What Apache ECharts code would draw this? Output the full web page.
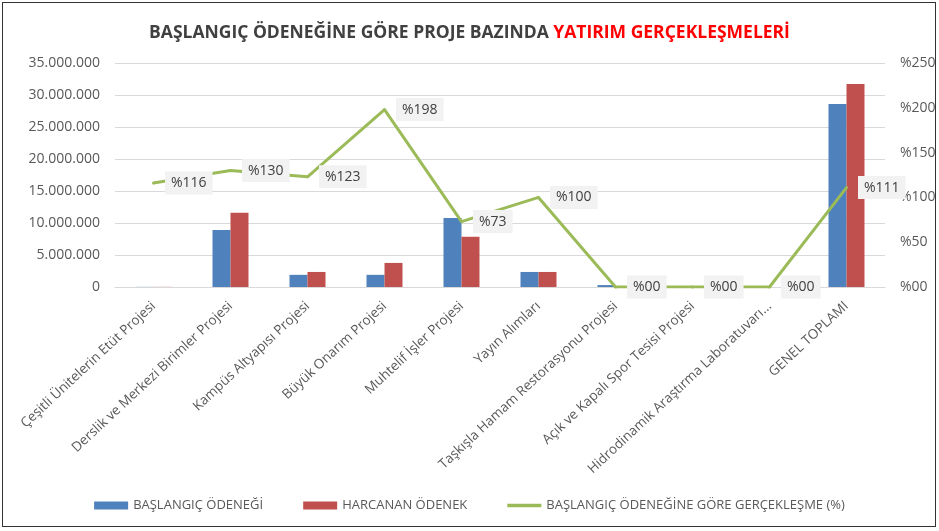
<!DOCTYPE html>
<html><head><meta charset="utf-8">
<script src="https://cdn.jsdelivr.net/npm/echarts@6/dist/echarts.min.js"></script>
<style>
html,body{margin:0;padding:0;background:#fff;}
#frame{position:absolute;left:2px;top:2px;width:934px;height:525px;border:1px solid #333;box-sizing:border-box;}
#c{position:absolute;left:0;top:0;width:939px;height:531px;}
</style></head>
<body><div id="frame"></div><div id="c"></div>
<script>
const categories = ["Çeşitli Ünitelerin Etüt Projesi","Derslik ve Merkezi Birimler Projesi","Kampüs Altyapısı Projesi","Büyük Onarım Projesi","Muhtelif İşler Projesi","Yayın Alımları","Taşkışla Hamam Restorasyonu Projesi","Açık ve Kapalı Spor Tesisi Projesi","Hidrodinamik Araştırma Laboratuvarı...","GENEL TOPLAMI"];
const baslangic = [20000, 8900000, 1900000, 1900000, 10800000, 2350000, 300000, 0, 0, 28600000];
const harcanan = [23200, 11600000, 2350000, 3760000, 7850000, 2350000, 0, 0, 0, 31700000];
const oran = [116, 130, 123, 198, 73, 100, 0, 0, 0, 111];
const seriesNames = ["BAŞLANGIÇ ÖDENEĞİ","HARCANAN ÖDENEK","BAŞLANGIÇ ÖDENEĞİNE GÖRE GERÇEKLEŞME (%)"];

const font = "'Open Sans', 'Noto Sans', sans-serif";
const narrow = "'Liberation Sans Narrow','Open Sans',sans-serif";
const fmtNum = v => String(Math.round(v)).replace(/\B(?=(\d{3})+(?!\d))/g, ".");
const fmtPct = v => "%" + (v === 0 ? "00" : v);

const chart = echarts.init(document.getElementById('c'));
chart.setOption({
  animation:false,
  textStyle:{fontFamily:font},
  title:{
    left:'center', top:19,
    text:'{a|BAŞLANGIÇ ÖDENEĞİNE GÖRE PROJE BAZINDA }{b|YATIRIM GERÇEKLEŞMELERİ}',
    textStyle:{rich:{
      a:{fontFamily:narrow,fontWeight:'bold',fontSize:17.5,color:'#404040'},
      b:{fontFamily:narrow,fontWeight:'bold',fontSize:17.5,color:'#ff0000'}
    }}
  },
  legend:{
    bottom:14, left:'center', itemGap:40,
    itemWidth:34, itemHeight:8,
    textStyle:{color:'#595959',fontSize:13,fontFamily:narrow},
    data:[
      {name:seriesNames[0], icon:'rect'},
      {name:seriesNames[1], icon:'rect'},
      {name:seriesNames[2], icon:'path://M0,0h40v4h-40z', itemStyle:{color:'#9bbb59'}}
    ]
  },
  grid:{left:115, right:54, top:63, bottom:244},
  xAxis:{
    type:'category', data:categories,
    axisLine:{lineStyle:{color:'#d9d9d9',width:1}},
    axisTick:{show:false},
    axisLabel:{rotate:43, interval:0, color:'#595959', fontSize:13.5, margin:17}
  },
  yAxis:[
    {type:'value', min:0, max:35000000, interval:5000000,
     axisLabel:{formatter:fmtNum, color:'#595959', fontSize:14, margin:15},
     splitLine:{lineStyle:{color:'#d9d9d9'}}, axisLine:{show:false}, axisTick:{show:false}},
    {type:'value', min:0, max:250, interval:50, position:'right',
     axisLabel:{formatter:fmtPct, color:'#595959', fontSize:14, margin:15},
     splitLine:{show:false}, axisLine:{show:false}, axisTick:{show:false}}
  ],
  series:[
    {name:seriesNames[0], type:'bar', data:baslangic, barWidth:18, barGap:'0%',
     itemStyle:{color:'#4f81bd'}},
    {name:seriesNames[1], type:'bar', data:harcanan, barWidth:18, barGap:'0%',
     itemStyle:{color:'#c0504d'}},
    {name:seriesNames[2], type:'line', yAxisIndex:1, data:oran,
     symbol:'circle', symbolSize:3, showSymbol:true, showAllSymbol:true,
     lineStyle:{color:'#9bbb59', width:3}, itemStyle:{color:'#9bbb59'}, z:5,
     label:{show:true, position:'right', distance:10, formatter:p=>fmtPct(p.value),
       backgroundColor:'#f2f2f2', padding:[5,6,4,6], color:'#404040', fontSize:14}}
  ]
});
</script></body></html>
